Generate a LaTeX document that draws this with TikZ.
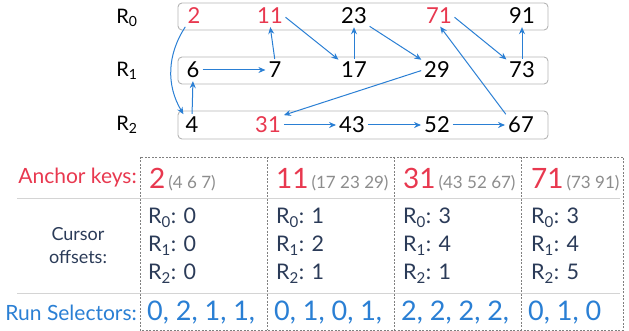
\documentclass[tikz,border=0pt]{standalone}
\usepackage{fontspec}
\setmainfont{Lato}
\usetikzlibrary{arrows.meta, positioning}

\definecolor{keyred}{HTML}{E8384F}
\definecolor{runblue}{HTML}{2A7FD4}
\definecolor{offnavy}{HTML}{2B3B58}
\definecolor{boxgray}{HTML}{B4B4B4}
\definecolor{restgray}{HTML}{8C8C8C}
\definecolor{rulegray}{HTML}{D4D4D4}

\newcommand{\offs}[3]{R\textsubscript{0}: #1\\R\textsubscript{1}: #2\\R\textsubscript{2}: #3}

\tikzset{
    elem/.style={font=\fontsize{22}{24}\selectfont, inner sep=1pt},
    hot/.style={elem, text=keyred},
    rowlab/.style={font=\fontsize{20}{22}\selectfont, inner sep=0pt},
    rowbox/.style={draw=boxgray, rounded corners=4pt, line width=0.9pt},
    link/.style={draw=runblue, line width=1pt, -{Stealth[length=7pt, width=6pt]}, shorten >=2pt, shorten <=2pt},
    cellsep/.style={draw=gray, line width=0.8pt, dash pattern=on 2pt off 1.5pt},
    rowrule/.style={draw=rulegray, line width=0.8pt},
    head/.style={anchor=east, inner sep=1pt, font=\fontsize{21}{23}\selectfont},
    keynum/.style={anchor=west, inner sep=1pt, text=keyred, font=\fontsize{28}{30}\selectfont},
    rest/.style={anchor=base west, inner sep=1.5pt, text=restgray, font=\fontsize{17}{19}\selectfont},
    offtxt/.style={anchor=west, inner sep=0pt, align=left, text=offnavy, font=\fontsize{21.5}{28}\selectfont},
    runs/.style={anchor=west, inner sep=0pt, text=runblue, font=\fontsize{27}{29}\selectfont}
}

\begin{document}
\begin{tikzpicture}[x=1pt, y=-1pt]
        \useasboundingbox (0,0) rectangle (629,331);

        % the three runs
        \draw[rowbox] (178,3) rectangle (548,30);
        \draw[rowbox] (178,57) rectangle (548,84);
        \draw[rowbox] (178,111) rectangle (548,139);

        \node[rowlab] (lab0) at (127,18) {R\textsubscript{0}};
        \node[rowlab] (lab1) at (127,71) {R\textsubscript{1}};
        \node[rowlab] (lab2) at (127,125) {R\textsubscript{2}};

        \node[hot] (n2) at (194,16) {2};
        \node[hot] (n11) at (270,16) {11};
        \node[elem] (n23) at (354,16) {23};
        \node[hot] (n71) at (439,16) {71};
        \node[elem] (n91) at (522,16) {91};

        \node[elem] (n6) at (193,70) {6};
        \node[elem] (n7) at (275,70) {7};
        \node[elem] (n17) at (354,70) {17};
        \node[elem] (n29) at (437,70) {29};
        \node[elem] (n73) at (522,70) {73};

        \node[elem] (n4) at (192,125) {4};
        \node[hot] (n31) at (268,125) {31};
        \node[elem] (n43) at (352,125) {43};
        \node[elem] (n52) at (437,125) {52};
        \node[elem] (n67) at (521,125) {67};

        \draw[link] (n2.south west) to[bend right=32] (n4.north west);
        \draw[link] (n4.north) -- (n6.south);
        \draw[link] (n6.east) -- (n7.west);
        \draw[link] (n7.north) -- (n11.south);
        \draw[link] (n11.east) -- (n17.north west);
        \draw[link] (n17.north) -- (n23.south);
        \draw[link] (n23.south east) -- (n29.north west);
        \draw[link] (n29.west) -- (n31.north east);
        \draw[link] (n31.east) -- (n43.west);
        \draw[link] (n43.east) -- (n52.west);
        \draw[link] (n52.east) -- (n67.west);
        \draw[link] (n67.north west) -- (n71.south);
        \draw[link] (n71.east) -- (n73.north west);
        \draw[link] (n73.north) -- (n91.south);

        % table below
        \draw[rowrule] (17,198) -- (620,198);
        \draw[rowrule] (17,293) -- (620,293);
        \draw[cellsep] (140,157) rectangle (623,330);
        \draw[cellsep] (267,157) -- (267,330);
        \draw[cellsep] (394,157) -- (394,330);
        \draw[cellsep] (521,157) -- (521,330);

        \node[head, text=keyred] (anchorhead) at (138,178) {Anchor keys:};
        \node[align=center, inner sep=0pt, text=offnavy, font=\fontsize{18}{23}\selectfont] (offhead) at (78,246) {Cursor\\offsets:};
        \node[head, text=runblue] (runhead) at (138,313) {Run Selectors:};

        \node[keynum] (k2) at (148,178) {2};
        \node[rest] (r2) at (k2.base east) {(4 6 7)};
        \node[keynum] (k11) at (275,178) {11};
        \node[rest] (r11) at (k11.base east) {(17 23 29)};
        \node[keynum] (k31) at (402,178) {31};
        \node[rest] (r31) at (k31.base east) {(43 52 67)};
        \node[keynum] (k71) at (530,178) {71};
        \node[rest] (r71) at (k71.base east) {(73 91)};

        \node[offtxt] (o2) at (148,246) {\offs{0}{0}{0}};
        \node[offtxt] (o11) at (276,246) {\offs{1}{2}{1}};
        \node[offtxt] (o31) at (403,246) {\offs{3}{4}{1}};
        \node[offtxt] (o71) at (531,246) {\offs{3}{4}{5}};

        \node[runs] (s2) at (147,313) {0, 2, 1, 1,};
        \node[runs] (s11) at (274,313) {0, 1, 0, 1,};
        \node[runs] (s31) at (401,313) {2, 2, 2, 2,};
        \node[runs] (s71) at (528,313) {0, 1, 0};
    \end{tikzpicture}
\end{document}
